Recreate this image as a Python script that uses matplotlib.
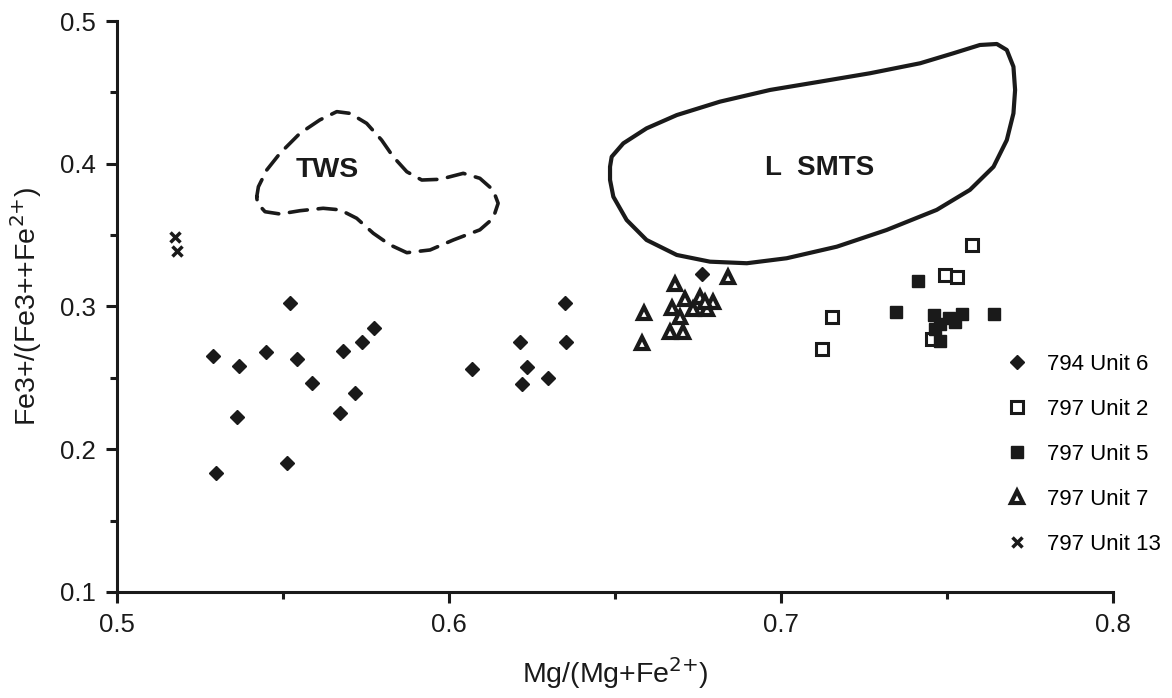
import matplotlib.pyplot as plt
from matplotlib.patches import Polygon
from matplotlib.ticker import MultipleLocator

plt.rcParams['font.family'] = ['Liberation Sans', 'DejaVu Sans']
plt.rcParams['mathtext.default'] = 'regular'

# 794 Unit 6 (filled diamonds)
u6_x = [0.5521, 0.5775, 0.5737, 0.5290, 0.5448, 0.5680, 0.5368, 0.5543, 0.5586,
        0.5717, 0.5673, 0.5361, 0.5513, 0.5298, 0.6070, 0.6349, 0.6214, 0.6351,
        0.6234, 0.6219, 0.6299, 0.6761]
u6_y = [0.3022, 0.2852, 0.2751, 0.2651, 0.2683, 0.2686, 0.2581, 0.2632, 0.2462,
        0.2392, 0.2256, 0.2228, 0.1902, 0.1836, 0.2562, 0.3022, 0.2753, 0.2749,
        0.2578, 0.2457, 0.2497, 0.3228]

# 797 Unit 2 (open squares)
u2_x = [0.7122, 0.7153, 0.7455, 0.7494, 0.7529, 0.7574]
u2_y = [0.2700, 0.2924, 0.2770, 0.3221, 0.3209, 0.3431]

# 797 Unit 5 (filled squares)
u5_x = [0.7345, 0.7414, 0.7460, 0.7480, 0.7505, 0.7525, 0.7480, 0.7545, 0.7640, 0.7465]
u5_y = [0.2960, 0.3181, 0.2940, 0.2880, 0.2920, 0.2890, 0.2760, 0.2950, 0.2950, 0.2840]

# 797 Unit 7 (open triangles)
u7_x = [0.6588, 0.6580, 0.6681, 0.6841, 0.6673, 0.6711, 0.6696, 0.6736, 0.6667,
        0.6706, 0.6756, 0.6776, 0.6796, 0.6770]
u7_y = [0.2952, 0.2747, 0.3158, 0.3205, 0.2987, 0.3050, 0.2929, 0.2980, 0.2823,
        0.2823, 0.3069, 0.2980, 0.3034, 0.3030]

# 797 Unit 13 (crosses)
u13_x = [0.5175, 0.5180]
u13_y = [0.3490, 0.3390]

# outline of the TWS field
tws_x = [0.5421, 0.5426, 0.5451, 0.5491, 0.5551, 0.5611, 0.5662, 0.5702, 0.5752,
         0.5797, 0.5832, 0.5873, 0.5918, 0.5973, 0.6043, 0.6093, 0.6133, 0.6148,
         0.6133, 0.6093, 0.6013, 0.5943, 0.5873, 0.5822, 0.5772, 0.5722, 0.5672,
         0.5621, 0.5551, 0.5491, 0.5446, 0.5423]
tws_y = [0.3769, 0.3839, 0.3956, 0.4073, 0.4213, 0.4307, 0.4365, 0.4353, 0.4283,
         0.4166, 0.4049, 0.3944, 0.3886, 0.3891, 0.3933, 0.3898, 0.3816, 0.3723,
         0.3618, 0.3537, 0.3466, 0.3396, 0.3377, 0.3432, 0.3513, 0.3618, 0.3677,
         0.3688, 0.3671, 0.3648, 0.3664, 0.3723]

# outline of the L SMTS field
smts_x = [0.6485, 0.6490, 0.6525, 0.6595, 0.6686, 0.6816, 0.6967, 0.7117, 0.7268,
          0.7419, 0.7519, 0.7599, 0.7650, 0.7680, 0.7700, 0.7705, 0.7700, 0.7680,
          0.7640, 0.7569, 0.7469, 0.7318, 0.7168, 0.7017, 0.6897, 0.6786, 0.6686,
          0.6595, 0.6535, 0.6495, 0.6485]
smts_y = [0.3979, 0.4049, 0.4143, 0.4248, 0.4341, 0.4435, 0.4517, 0.4575, 0.4634,
          0.4704, 0.4774, 0.4832, 0.4839, 0.4797, 0.4680, 0.4517, 0.4353, 0.4166,
          0.3979, 0.3817, 0.3677, 0.3536, 0.3419, 0.3338, 0.3303, 0.3314, 0.3361,
          0.3466, 0.3606, 0.3769, 0.3887]

k = '#1a1a1a'

fig = plt.figure(figsize=(11.72, 6.98), dpi=100)
ax = fig.add_axes([0.0998, 0.1519, 0.8499, 0.818])

ax.add_patch(Polygon(list(zip(tws_x, tws_y)), closed=True, fill=False, edgecolor=k,
                     lw=2.6, linestyle=(0, (5, 3)), joinstyle='round', capstyle='round'))
ax.add_patch(Polygon(list(zip(smts_x, smts_y)), closed=True, fill=False, edgecolor=k,
                     lw=3, joinstyle='round'))
ax.text(0.5632, 0.3956, 'TWS', fontsize=20.5, fontweight='bold', ha='center', va='center', color=k)
ax.text(0.7117, 0.3968, 'L  SMTS', fontsize=20, fontweight='bold', ha='center', va='center', color=k)

ax.plot(u6_x, u6_y, 'D', ms=7.5, color=k, mec=k, ls='none', label='794 Unit 6')
ax.plot(u2_x, u2_y, 's', ms=8, mfc='white', mec=k, mew=2.2, ls='none', label='797 Unit 2')
ax.plot(u5_x, u5_y, 's', ms=9, color=k, ls='none', label='797 Unit 5')
ax.plot(u7_x, u7_y, '^', ms=9, mfc='white', mec=k, mew=3, ls='none', label='797 Unit 7')
ax.plot(u13_x, u13_y, 'x', ms=6.5, color=k, mew=2.5, ls='none', label='797 Unit 13')

ax.set_xlim(0.5, 0.8)
ax.set_ylim(0.1, 0.5)
ax.xaxis.set_major_locator(MultipleLocator(0.1))
ax.xaxis.set_minor_locator(MultipleLocator(0.05))
ax.yaxis.set_major_locator(MultipleLocator(0.1))
ax.yaxis.set_minor_locator(MultipleLocator(0.05))
ax.spines['top'].set_visible(False)
ax.spines['right'].set_visible(False)
for s in ['left', 'bottom']:
    ax.spines[s].set_linewidth(2.2)
    ax.spines[s].set_color(k)
ax.tick_params(which='major', length=8, width=2.2, labelsize=18.5, colors=k, pad=7)
ax.tick_params(which='minor', length=5, width=2.2, colors=k)

ax.set_xlabel(r'Mg/(Mg+Fe$^{\text{2+}}$)', fontsize=20.5, color=k, labelpad=14)
ax.set_ylabel(r'Fe3+/(Fe3++Fe$^{\text{2+}}$)', fontsize=20.5, color=k, labelpad=12)

ax.legend(loc='upper left', bbox_to_anchor=(0.8835, 0.433), frameon=False, fontsize=16,
          labelspacing=1.08, handletextpad=0.85, handlelength=1.0, borderaxespad=0)

fig.savefig('out.png', dpi=100)
